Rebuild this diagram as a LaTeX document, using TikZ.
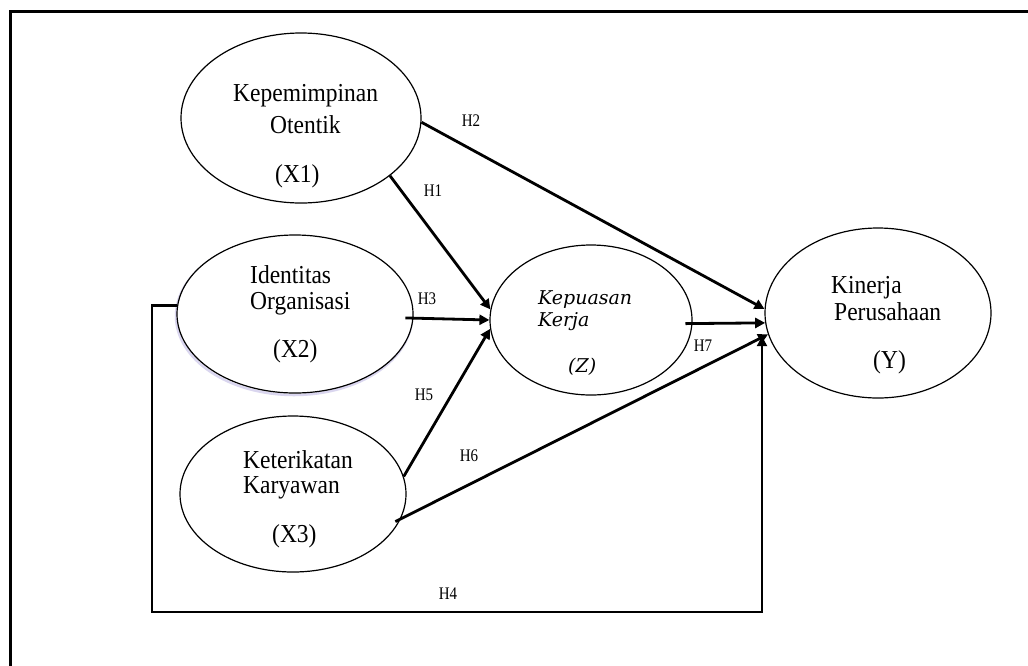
\documentclass[tikz,border=0pt]{standalone}
\usepackage{fontspec}
\usepackage{graphicx}
\setmainfont{Liberation Serif}
\newfontfamily\zfont{DejaVu Serif}
\usetikzlibrary{shapes.geometric,arrows.meta,calc}
\newcommand\vstr[1]{\scalebox{1}[1.1]{#1}}
\newcommand\hstr[1]{\scalebox{1}[1.18]{#1}}
\begin{document}
\begin{tikzpicture}[x=1pt,y=-1pt,
  ell/.style={draw, ellipse, line width=1.2pt, inner sep=0pt, fill=white},
  txt/.style={inner sep=0pt, font=\fontsize{23.5}{26}\selectfont},
  ztxt/.style={inner sep=0pt, font=\zfont\itshape\fontsize{19}{22}\selectfont},
  lab/.style={inner sep=0pt, font=\fontsize{15}{17}\selectfont},
  arr/.style={line width=2.8pt, -{Triangle[length=10pt,width=10pt]}},
  frame/.style={line width=3pt}
]
\useasboundingbox (0,0) rectangle (1028,665);
\fill[white] (0,0) rectangle (1028,665);
% frame (cut by the picture's edges)
\coordinate (fa) at (10,668);
\coordinate (fb) at (10,11);
\coordinate (fc) at (1031,11);
\draw[frame] (fa) -- (fb) -- (fc);

% faint shadow of X2
\node[ellipse, draw=cyan!12!blue!14, line width=2.5pt, inner sep=0pt, minimum width=236pt, minimum height=158pt] (X2s) at (294,316) {};

% ellipses
\node[ell, minimum width=240pt, minimum height=170pt] (X1) at (301,118) {};
\node[ell, minimum width=236pt, minimum height=158pt] (X2) at (295,314) {};
\node[ell, minimum width=226pt, minimum height=156pt] (X3) at (293,494) {};
\node[ell, minimum width=202pt, minimum height=150pt] (Z) at (591,320) {};
\node[ell, minimum width=226pt, minimum height=170pt] (Y) at (878,313) {};

% texts
\node[txt, anchor=base west] (x1a) at (233,101) {\vstr{Kepemimpinan}};
\node[txt, anchor=base west] (x1b) at (270,133) {\vstr{Otentik}};
\node[txt, anchor=base west] (x1c) at (275,182) {\vstr{(X1)}};

\node[txt, anchor=base west] (x2a) at (250,283) {\vstr{Identitas}};
\node[txt, anchor=base west] (x2b) at (250,309) {\vstr{Organisasi}};
\node[txt, anchor=base west] (x2c) at (273,357) {\vstr{(X2)}};

\node[txt, anchor=base west] (x3a) at (243,468) {\vstr{Keterikatan}};
\node[txt, anchor=base west] (x3b) at (243,493) {\vstr{Karyawan}};
\node[txt, anchor=base west] (x3c) at (272,542) {\vstr{(X3)}};

\node[ztxt, anchor=base west] (za) at (538,304) {Kepuasan};
\node[ztxt, anchor=base west] (zb) at (538,326) {Kerja};
\node[ztxt, anchor=base west] (zc) at (568,372) {(Z)};

\node[txt, anchor=base west] (ya) at (831,293) {\vstr{Kinerja}};
\node[txt, anchor=base west] (yb) at (834,320) {\vstr{Perusahaan}};
\node[txt, anchor=base west] (yc) at (873,368) {\vstr{(Y)}};

% connectors
\draw[arr] (X1.-2) -- (Y.178);
\draw[arr] (X1.-33) -- (Z.174);
\draw[arr, shorten <=-8pt] (X2.-2) -- (Z.180);
\draw[arr] (X3.9) -- (Z.185);
\draw[arr, shorten <=-6pt] (X3.-13) -- (Y.191);
\draw[arr, shorten <=-7pt] (Z.-2) -- (Y.185);
\coordinate (h4b) at (762,612);
\draw[arr] (X2.176) -- ++(-25,0) |- (h4b) -- (h4b |- Y.192);

% labels
\node[lab] (H2) at (471,121) {\hstr{H2}};
\node[lab] (H1) at (433,191) {\hstr{H1}};
\node[lab] (H3) at (427,299) {\hstr{H3}};
\node[lab] (H5) at (424,395) {\hstr{H5}};
\node[lab] (H6) at (469,456) {\hstr{H6}};
\node[lab] (H4) at (448,594) {\hstr{H4}};
\node[lab] (H7) at (703,346) {\hstr{H7}};
\end{tikzpicture}
\end{document}
